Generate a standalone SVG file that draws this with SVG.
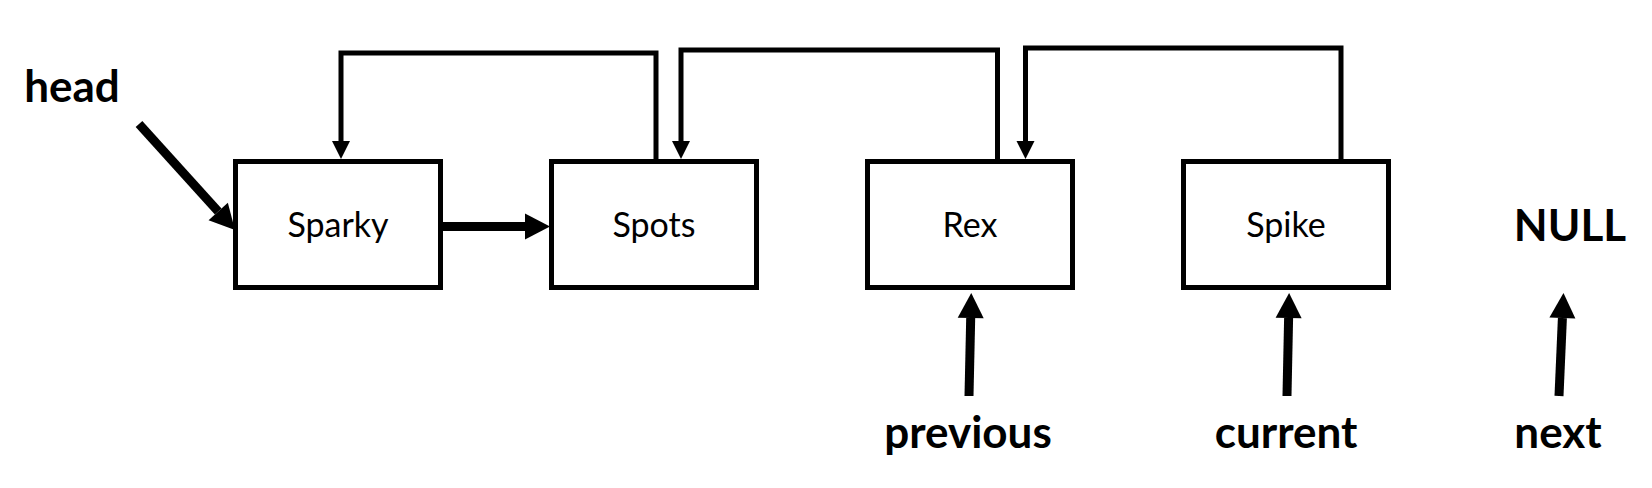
<svg xmlns="http://www.w3.org/2000/svg" width="1652" height="488" viewBox="0 0 1652 488">
  <style>
    .box { fill: #ffffff; stroke: #000000; stroke-width: 5; }
    .name { font-family: Lato, "Liberation Sans", sans-serif; font-size: 34px; fill: #000000; text-anchor: middle; }
    .lbl { font-family: Lato, "Liberation Sans", sans-serif; font-size: 44px; font-weight: bold; fill: #000000; text-anchor: middle; }
    .thick { fill: none; stroke: #000000; stroke-width: 9; marker-end: url(#bigHead); }
    .loop { fill: none; stroke: #000000; stroke-width: 5; stroke-linejoin: miter; stroke-linecap: square; marker-end: url(#smallHead); }
  </style>
  <defs>
    <marker id="bigHead" markerUnits="userSpaceOnUse" markerWidth="26" markerHeight="26" refX="0" refY="13" orient="auto" overflow="visible">
      <path d="M0,0 L25,13 L0,26 Z" fill="#000000"/>
    </marker>
    <marker id="smallHead" markerUnits="userSpaceOnUse" markerWidth="18" markerHeight="18" refX="0" refY="9" orient="auto" overflow="visible">
      <path d="M0,0 L18,9 L0,18 Z" fill="#000000"/>
    </marker>
  </defs>
  <rect width="1652" height="488" fill="#ffffff"/>

  <g id="connectors">
    <path class="thick" d="M139,124 L218.2,211.5"/>
    <path class="thick" d="M443,226.5 L525,226.5"/>
    <path class="loop" d="M656,157 V53 H341 V141"/>
    <path class="loop" d="M997.5,157 V50 H681 V141"/>
    <path class="loop" d="M1341,157 V48 H1025.5 V141"/>
    <path class="thick" d="M969,396 L970.7,318"/>
    <path class="thick" d="M1287,396 L1288.6,318"/>
    <path class="thick" d="M1559,396 L1562.4,318"/>
  </g>

  <g id="node-sparky">
    <rect class="box" x="235.5" y="161.5" width="205" height="126"/>
    <text class="name" x="338" y="237">Sparky</text>
  </g>
  <g id="node-spots">
    <rect class="box" x="551.5" y="161.5" width="205" height="126"/>
    <text class="name" x="654" y="237">Spots</text>
  </g>
  <g id="node-rex">
    <rect class="box" x="867.5" y="161.5" width="205" height="126"/>
    <text class="name" x="970" y="237">Rex</text>
  </g>
  <g id="node-spike">
    <rect class="box" x="1183.5" y="161.5" width="205" height="126"/>
    <text class="name" x="1286" y="237">Spike</text>
  </g>

  <g id="label-head"><text class="lbl" x="72" y="102">head</text></g>
  <g id="label-null"><text class="lbl" x="1570" y="241">NULL</text></g>
  <g id="label-previous"><text class="lbl" x="968" y="448">previous</text></g>
  <g id="label-current"><text class="lbl" x="1286" y="448">current</text></g>
  <g id="label-next"><text class="lbl" x="1558" y="448">next</text></g>
</svg>
